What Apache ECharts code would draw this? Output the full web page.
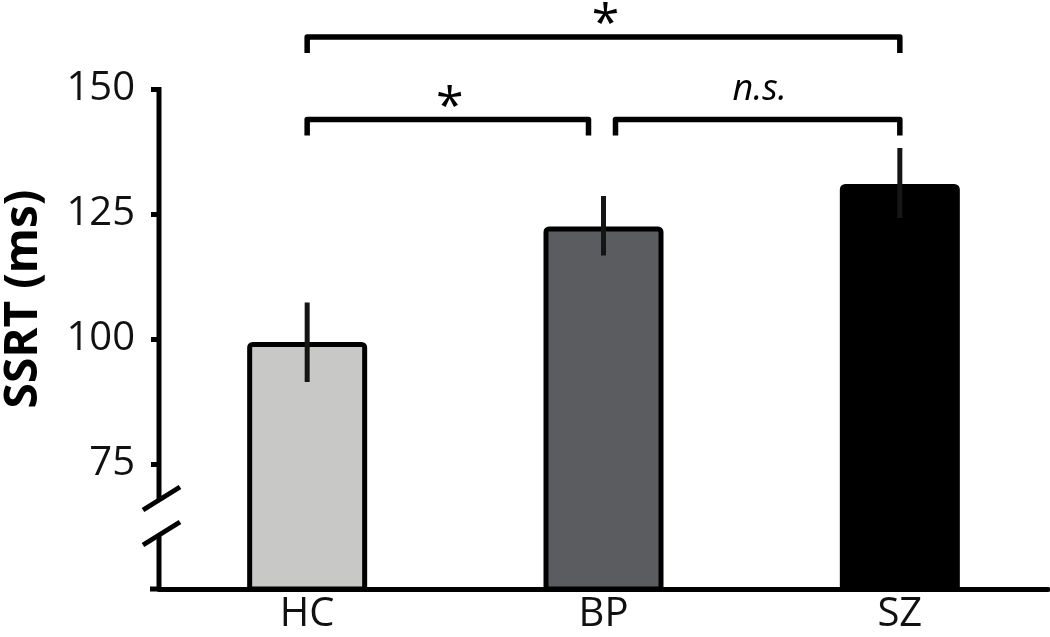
<!DOCTYPE html>
<html>
<head>
<meta charset="utf-8">
<script src="https://cdn.jsdelivr.net/npm/echarts@6/dist/echarts.min.js"></script>
<style>
  html, body { margin: 0; padding: 0; background: #fff; }
  #chart { width: 1050px; height: 637px; }
</style>
</head>
<body>
<div id="chart"></div>
<script>
const groups = ["HC", "BP", "SZ"];
const means = [99.4, 122.5, 131.0];
const errLow = [91.4, 116.7, 124.2];
const errHigh = [107.3, 128.6, 138.2];
const barColors = ["#c8c8c6", "#5b5c60", "#000000"];
const yTicks = [75, 100, 125, 150];
// significance brackets: from, to, label, level (ms)
const compFrom = ["HC", "HC", "BP"];
const compTo = ["SZ", "BP", "SZ"];
const compLabel = ["*", "*", "n.s."];
const compLevel = [160.4, 143.9, 143.9];
// axis break drawn between these values
const breakValues = [68, 61];

const FONT = '"Open Sans", "Noto Sans", sans-serif';
const chart = echarts.init(document.getElementById("chart"));

function renderAxisBreak(params, api) {
  const band = api.size([1, 0])[0];
  const x = api.coord([0, 50])[0] - band / 2;
  const yTop = api.coord([0, 150])[1];
  const yBottom = api.coord([0, 50])[1];
  const yb1 = api.coord([0, breakValues[0]])[1];
  const yb2 = api.coord([0, breakValues[1]])[1];
  const lineStyle = { stroke: "#000", lineWidth: 5, fill: null };
  const slash = (y) => ({
    type: "line",
    shape: { x1: x - 16, y1: y + 11, x2: x + 21, y2: y - 12 },
    style: lineStyle,
  });
  return {
    type: "group",
    children: [
      { type: "line", shape: { x1: x, y1: yTop - 2, x2: x, y2: yb1 }, style: lineStyle },
      { type: "polyline", shape: { points: [[x, yb2], [x, yBottom], [x - 9, yBottom]] }, style: lineStyle },
      slash(yb1),
      slash(yb2),
    ],
  };
}

function renderError(params, api) {
  const i = api.value(0);
  const lo = api.coord([i, api.value(1)]);
  const hi = api.coord([i, api.value(2)]);
  return {
    type: "line",
    shape: { x1: lo[0], y1: lo[1], x2: hi[0], y2: hi[1] },
    style: { stroke: "#151515", lineWidth: 5 },
  };
}

function renderBracket(params, api) {
  const i0 = api.value(0);
  const i1 = api.value(1);
  const lv = api.value(2);
  const label = compLabel[params.dataIndex];
  const yLine = api.coord([i0, lv])[1];
  const yEnd = api.coord([i0, lv - 3.2])[1];
  let x0 = api.coord([i0, lv])[0];
  let x1 = api.coord([i1, lv])[0];
  // shorten ends where two brackets meet on the same bar
  compLevel.forEach((l, k) => {
    if (k === params.dataIndex || l !== lv) return;
    if (groups.indexOf(compTo[k]) === i0) x0 += 12;
    if (groups.indexOf(compFrom[k]) === i1) x1 -= 15;
  });
  const isStar = label === "*";
  return {
    type: "group",
    children: [
      {
        type: "polyline",
        shape: { points: [[x0, yEnd], [x0, yLine], [x1, yLine], [x1, yEnd]] },
        style: { stroke: "#000", lineWidth: 5.5, fill: null, lineJoin: "round" },
      },
      {
        type: "text",
        x: (x0 + x1) / 2 + 2,
        y: yLine - (isStar ? 11 : 12),
        style: {
          text: label,
          fill: "#000",
          font: isStar ? "50px " + FONT : "italic 36px " + FONT,
          align: "center",
          verticalAlign: isStar ? "middle" : "bottom",
        },
      },
    ],
  };
}

const option = {
  animation: false,
  backgroundColor: "#fff",
  grid: {
    left: 159,
    right: 2,
    top: 89,
    bottom: 48,
    containLabel: false,
    outerBoundsMode: "none",
  },
  xAxis: {
    type: "category",
    data: groups,
    axisLine: { show: true, lineStyle: { color: "#000", width: 5 } },
    axisTick: { show: false },
    axisLabel: { color: "#111", fontSize: 40, fontFamily: FONT, margin: 6 },
  },
  yAxis: {
    type: "value",
    min: 50,
    max: 150,
    interval: 25,
    name: "SSRT (ms)",
    nameLocation: "middle",
    nameGap: 112,
    nameTextStyle: {
      color: "#000",
      fontSize: 46,
      fontWeight: "bold",
      fontFamily: FONT,
      padding: [0, 0, 0, 80],
    },
    axisLine: { show: false },
    axisTick: {
      show: true,
      customValues: yTicks,
      length: 8,
      lineStyle: { color: "#000", width: 5 },
    },
    axisLabel: {
      customValues: yTicks,
      color: "#111",
      fontSize: 40,
      fontFamily: FONT,
      margin: 24,
    },
    splitLine: { show: false },
  },
  series: [
    {
      type: "bar",
      barWidth: 120,
      data: means.map((v, i) => ({
        value: v,
        itemStyle: { color: barColors[i] },
      })),
      itemStyle: { borderColor: "#000", borderWidth: 5, borderRadius: [3, 3, 0, 0] },
      z: 2,
    },
    {
      type: "custom",
      renderItem: renderError,
      data: groups.map((g, i) => [i, errLow[i], errHigh[i]]),
      z: 3,
    },
    {
      type: "custom",
      renderItem: renderBracket,
      clip: false,
      data: compFrom.map((f, k) => [groups.indexOf(f), groups.indexOf(compTo[k]), compLevel[k]]),
      z: 4,
    },
    {
      type: "custom",
      renderItem: renderAxisBreak,
      clip: false,
      data: [[0, 50]],
      z: 5,
    },
  ],
};

chart.setOption(option);
</script>
</body>
</html>
